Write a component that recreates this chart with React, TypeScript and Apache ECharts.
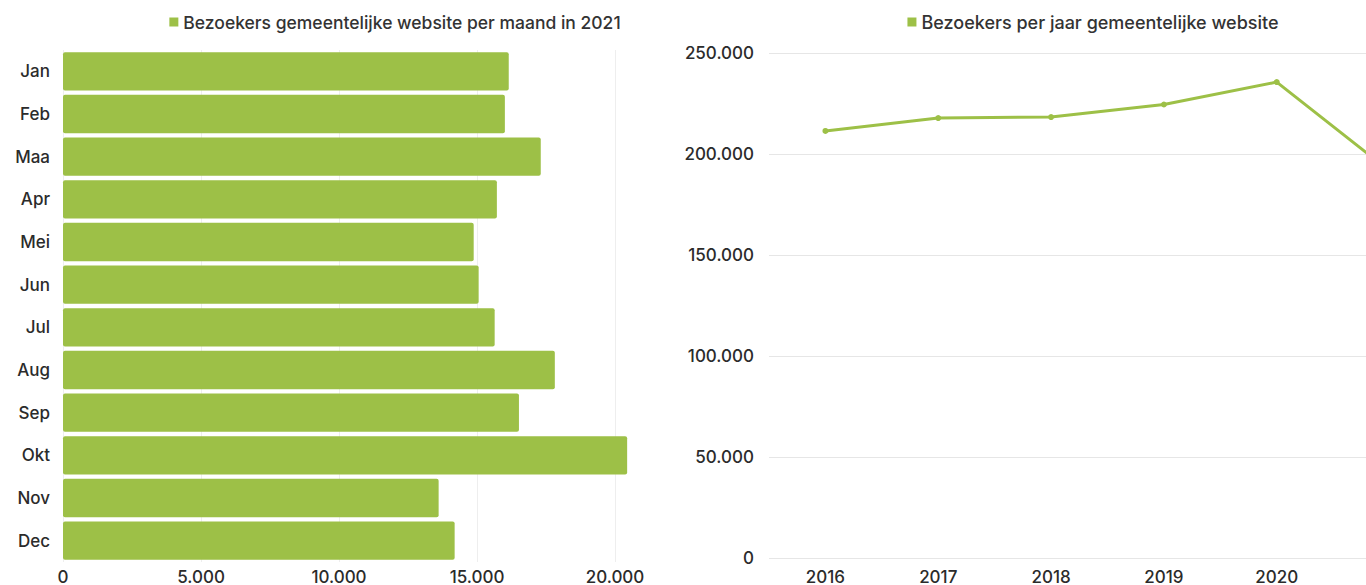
import React, { useEffect, useRef } from "react";
import * as echarts from "echarts";

const months = ["Jan", "Feb", "Maa", "Apr", "Mei", "Jun", "Jul", "Aug", "Sep", "Okt", "Nov", "Dec"];
const monthVisitors = [16150, 16010, 17310, 15720, 14880, 15060, 15640, 17820, 16520, 20440, 13610, 14190];
const years = ["2016", "2017", "2018", "2019", "2020", "2021"];
const yearVisitors = [211400, 217800, 218300, 224500, 235600, 191600];

const monthLegend = "Bezoekers gemeentelijke website per maand in 2021";
const yearLegend = "Bezoekers per jaar gemeentelijke website";

const GREEN = "#9dc047";
const TEXT = "#2b2b2b";
const FONT = "Inter, 'Noto Sans', sans-serif";

const fmt = (v: number) => String(v).replace(/\B(?=(\d{3})+(?!\d))/g, ".");

export default function App() {
  const leftRef = useRef<HTMLDivElement>(null);
  const rightRef = useRef<HTMLDivElement>(null);

  useEffect(() => {
    document.body.style.margin = "0";
    const left = echarts.init(leftRef.current!, undefined, { renderer: "svg" });
    const right = echarts.init(rightRef.current!, undefined, { renderer: "svg" });

    const legendBase = {
      top: 8,
      left: "center",
      icon: "rect",
      itemWidth: 9,
      itemHeight: 9,
      itemGap: 7,
      textStyle: { color: "#333", fontSize: 17.5, fontWeight: 500, fontFamily: FONT },
    };

    left.setOption({
      animation: false,
      backgroundColor: "#fff",
      textStyle: { fontFamily: FONT },
      legend: { ...legendBase, data: [monthLegend] },
      grid: { left: 63, right: 37, top: 50, bottom: 23 },
      xAxis: {
        type: "value",
        min: 0,
        max: 25000,
        interval: 5000,
        axisLine: { show: false },
        axisTick: { show: false },
        axisLabel: {
          color: TEXT,
          fontSize: 17,
          fontWeight: 500,
          margin: 6,
          showMaxLabel: false,
          formatter: (v: number) => fmt(v),
        },
        splitLine: { show: true, lineStyle: { color: "#eeeeee", width: 1 } },
      },
      yAxis: {
        type: "category",
        inverse: true,
        data: months,
        axisLine: { show: false },
        axisTick: { show: false },
        axisLabel: { color: TEXT, fontSize: 17, fontWeight: 500, margin: 13 },
      },
      series: [
        {
          name: monthLegend,
          type: "bar",
          data: monthVisitors,
          barCategoryGap: "10%",
          itemStyle: { color: GREEN, borderRadius: 2 },
        },
      ],
    });

    right.setOption({
      animation: false,
      backgroundColor: "#fff",
      textStyle: { fontFamily: FONT },
      legend: { ...legendBase, data: [yearLegend], textStyle: { ...legendBase.textStyle, fontSize: 18 } },
      grid: { left: 109, right: 80, top: 53, bottom: 27 },
      xAxis: {
        type: "category",
        data: years,
        boundaryGap: true,
        axisLine: { show: false },
        axisTick: { show: false },
        axisLabel: {
          color: TEXT,
          fontSize: 17,
          fontWeight: 500,
          margin: 10,
          interval: (i: number) => i < years.length - 1,
        },
      },
      yAxis: {
        type: "value",
        min: 0,
        max: 250000,
        interval: 50000,
        axisLine: { show: false },
        axisTick: { show: false },
        axisLabel: { color: TEXT, fontSize: 17, fontWeight: 500, margin: 15, formatter: (v: number) => fmt(v) },
        splitLine: { show: true, lineStyle: { color: "#e6e6e6", width: 1 } },
      },
      series: [
        {
          name: yearLegend,
          type: "line",
          data: yearVisitors,
          symbol: "circle",
          symbolSize: 6,
          lineStyle: { color: GREEN, width: 3 },
          itemStyle: { color: GREEN },
        },
      ],
    });

    return () => {
      left.dispose();
      right.dispose();
    };
  }, []);

  return (
    <div style={{ position: "fixed", left: 0, top: 0, width: 1366, height: 585, overflow: "hidden", background: "#fff" }}>
      <div style={{ position: "absolute", left: 0, top: 0, width: 660, height: 585, overflow: "hidden" }}>
        <div ref={leftRef} style={{ width: 790, height: 585 }} />
      </div>
      <div style={{ position: "absolute", left: 660, top: 0, width: 706, height: 585, overflow: "hidden" }}>
        <div ref={rightRef} style={{ width: 866, height: 585 }} />
      </div>
    </div>
  );
}
